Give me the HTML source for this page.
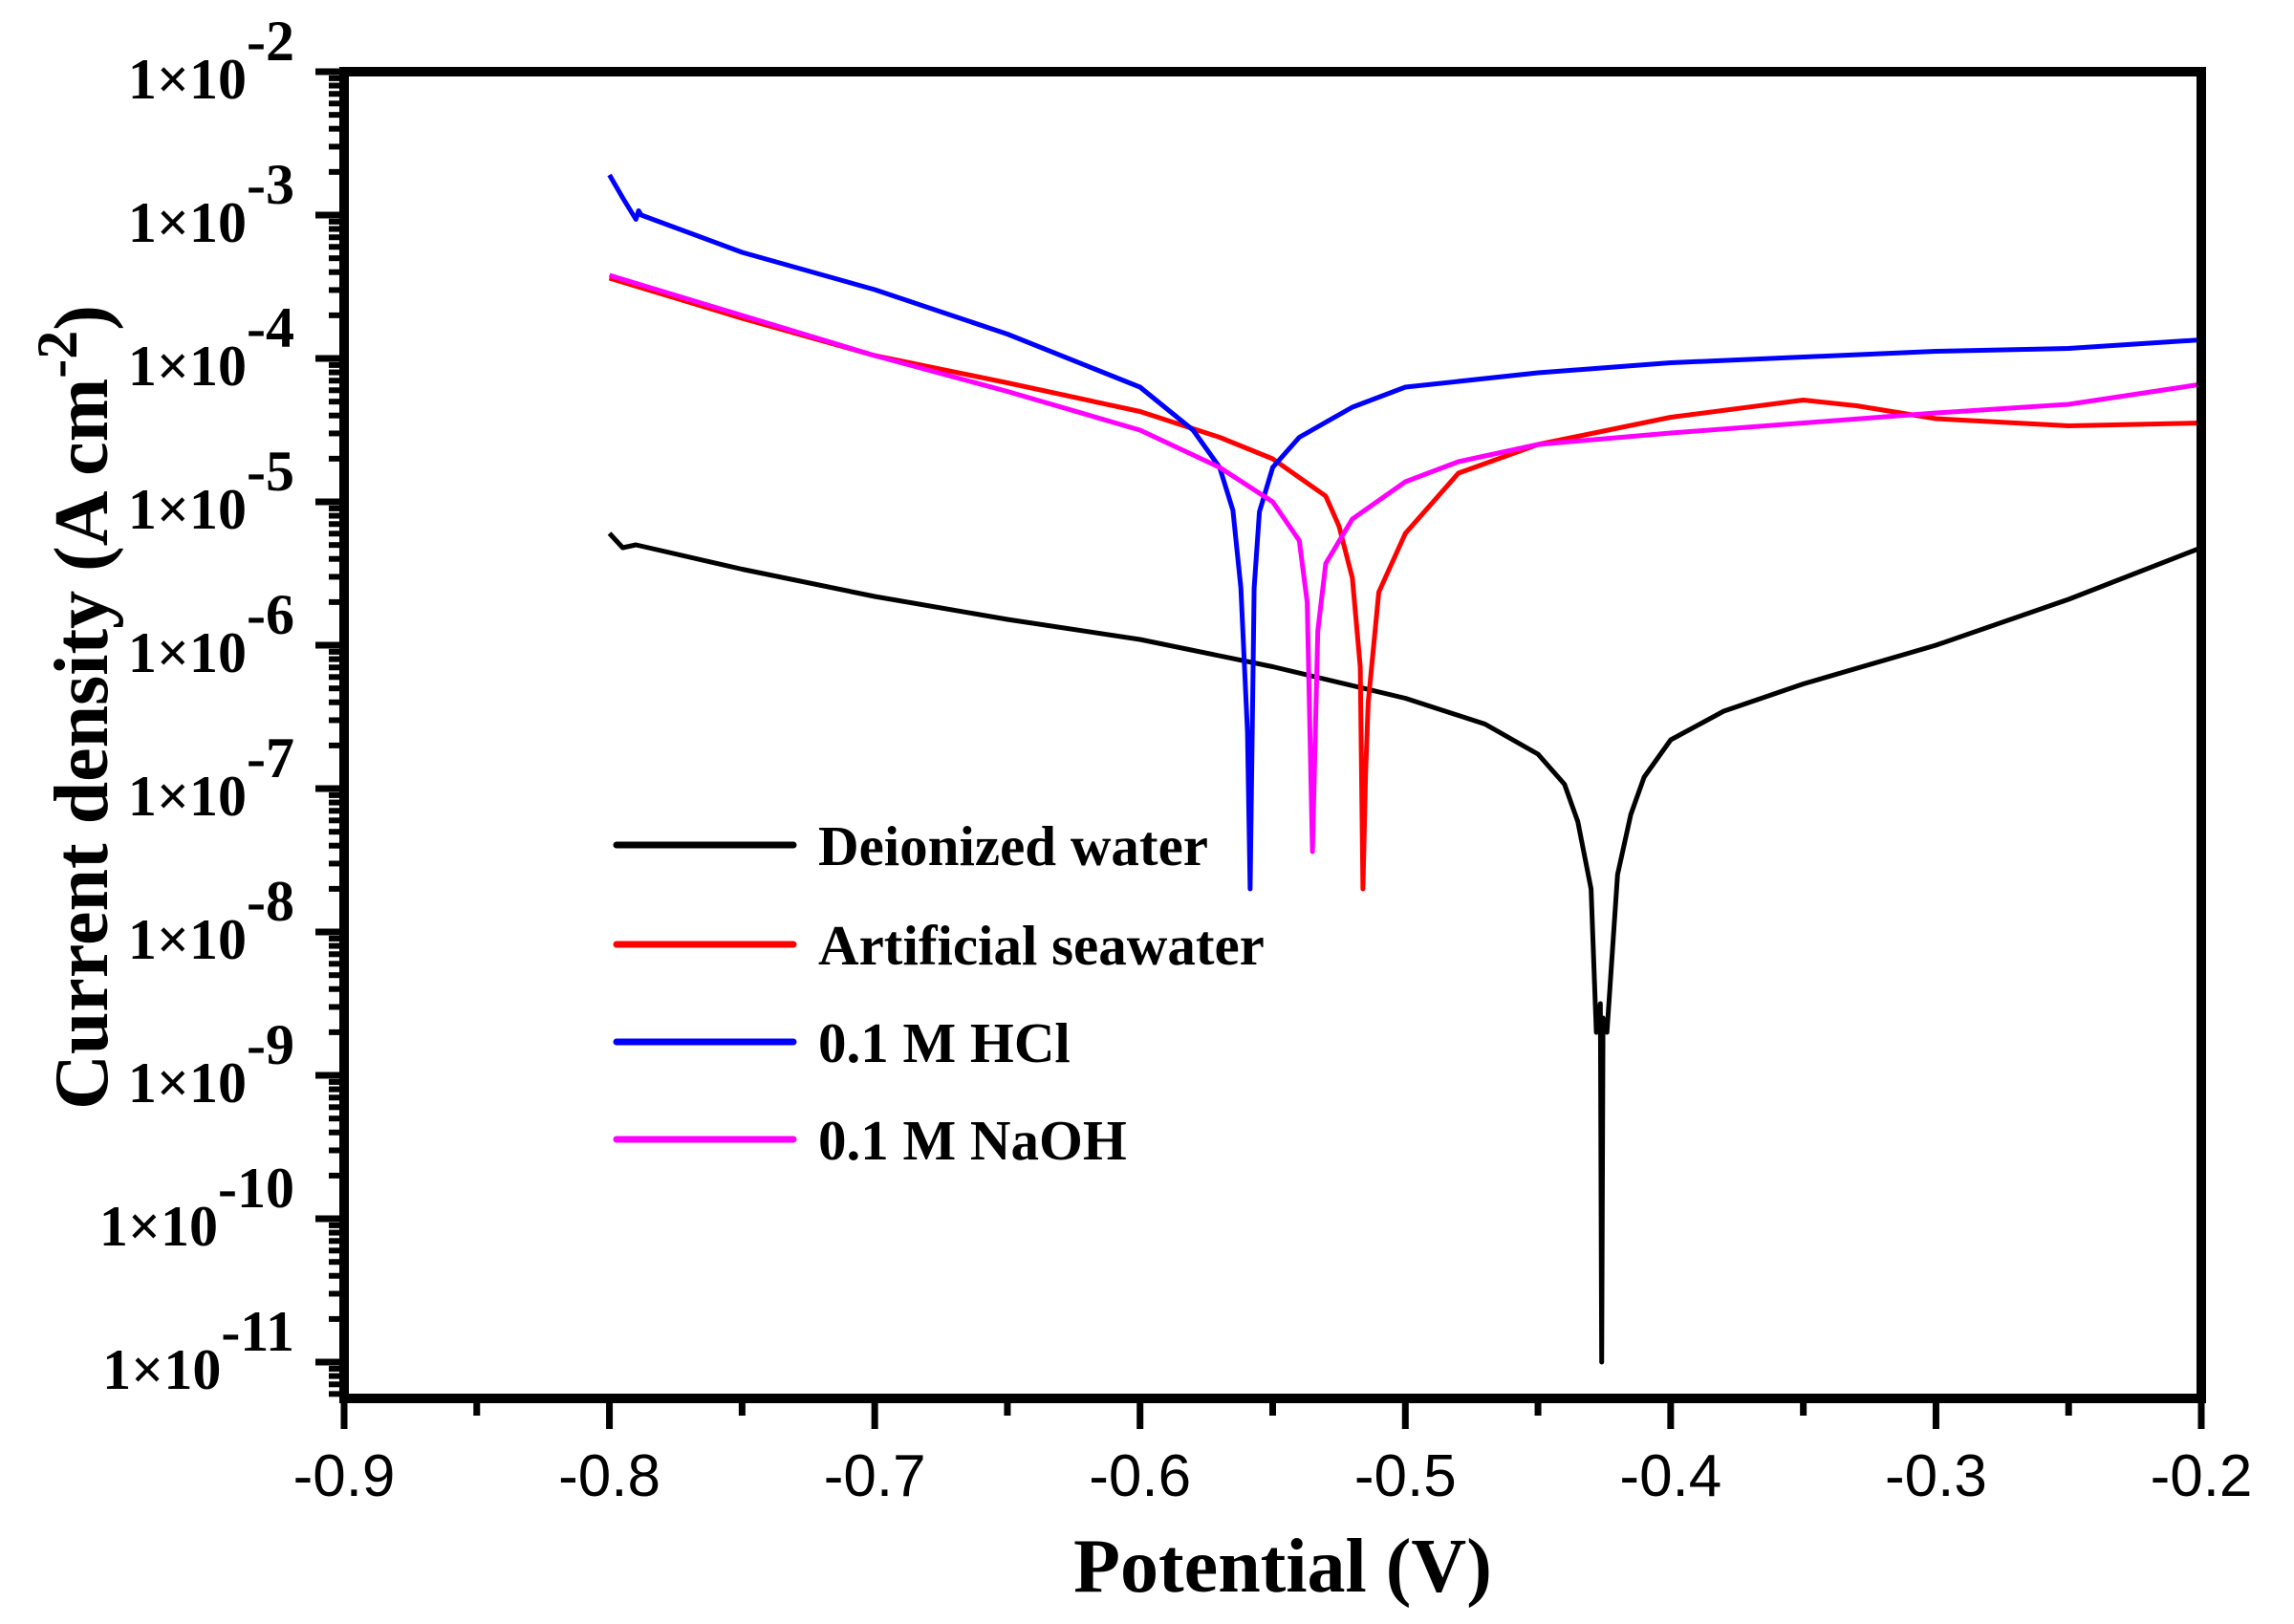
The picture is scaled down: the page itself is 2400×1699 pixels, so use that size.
<!DOCTYPE html>
<html><head><meta charset="utf-8"><style>
html,body{margin:0;padding:0;background:#fff;}
svg{display:block;}
.tl{font-family:"Liberation Serif",serif;font-weight:bold;font-size:60px;}
.xl{font-family:"Liberation Sans",sans-serif;font-size:62px;}
.ttl{font-family:"Liberation Serif",serif;font-weight:bold;font-size:80px;}
.lg{font-family:"Liberation Serif",serif;font-weight:bold;font-size:59px;}
</style></head><body>
<svg id="chart" width="2400" height="1699" viewBox="0 0 2400 1699" xmlns="http://www.w3.org/2000/svg">
<g id="plot"></g>
<g id="axes"></g>
<g id="legend"></g>
<text class="ttl" x="1342" y="1665" text-anchor="middle">Potential (V)</text>
<text class="ttl" transform="translate(112,740) rotate(-90)" text-anchor="middle">Current density (A cm<tspan dy="-32" font-size="60">-2</tspan><tspan dy="32">)</tspan></text>
</svg>
<script>
const xTicks=[-0.9,-0.8,-0.7,-0.6,-0.5,-0.4,-0.3,-0.2];
const xTickLabels=["-0.9","-0.8","-0.7","-0.6","-0.5","-0.4","-0.3","-0.2"];
const yDecades=[-2,-3,-4,-5,-6,-7,-8,-9,-10,-11];
const seriesNames=["Deionized water","Artificial seawater","0.1 M HCl","0.1 M NaOH"];
const seriesColors=["#000000","#ff0000","#0000ff","#ff00ff"];
const dwE=[-0.8,-0.795,-0.79,-0.75,-0.7,-0.65,-0.6,-0.55,-0.5,-0.47,-0.45,-0.44,-0.435,-0.43,-0.428,-0.4265,-0.426,-0.4255,-0.424,-0.42,-0.415,-0.41,-0.4,-0.38,-0.35,-0.3,-0.25,-0.2];
const dwI=[-5.22,-5.32,-5.30,-5.47,-5.66,-5.82,-5.96,-6.15,-6.37,-6.55,-6.76,-6.97,-7.23,-7.7,-8.7,-8.5,-11.0,-8.6,-8.7,-7.6,-7.18,-6.92,-6.66,-6.46,-6.27,-6.0,-5.68,-5.32];
const swE=[-0.8,-0.75,-0.7,-0.65,-0.6,-0.57,-0.55,-0.53,-0.525,-0.52,-0.517,-0.516,-0.515,-0.514,-0.51,-0.5,-0.48,-0.45,-0.4,-0.35,-0.33,-0.3,-0.25,-0.2];
const swI=[-3.44,-3.72,-3.98,-4.17,-4.37,-4.55,-4.70,-4.96,-5.17,-5.53,-6.15,-7.7,-6.9,-6.4,-5.63,-5.22,-4.8,-4.6,-4.41,-4.29,-4.33,-4.42,-4.47,-4.45];
const hclE=[-0.8,-0.795,-0.79,-0.789,-0.788,-0.75,-0.7,-0.65,-0.6,-0.58,-0.57,-0.565,-0.562,-0.5595,-0.5585,-0.557,-0.555,-0.55,-0.54,-0.52,-0.5,-0.45,-0.4,-0.35,-0.3,-0.25,-0.2];
const hclI=[-2.72,-2.88,-3.03,-2.97,-3.0,-3.26,-3.52,-3.83,-4.2,-4.5,-4.76,-5.06,-5.6,-6.6,-7.7,-5.6,-5.07,-4.76,-4.55,-4.34,-4.2,-4.1,-4.03,-3.99,-3.95,-3.93,-3.87];
const naE=[-0.8,-0.75,-0.7,-0.65,-0.6,-0.57,-0.55,-0.54,-0.537,-0.535,-0.533,-0.53,-0.52,-0.5,-0.48,-0.45,-0.4,-0.35,-0.3,-0.25,-0.2];
const naI=[-3.42,-3.70,-3.98,-4.23,-4.5,-4.76,-5.0,-5.27,-5.7,-7.44,-5.9,-5.43,-5.12,-4.86,-4.72,-4.6,-4.52,-4.45,-4.38,-4.32,-4.18];
const seriesE=[dwE,swE,hclE,naE];
const seriesI=[dwI,swI,hclI,naI];

const L=360,R=2303,T=75,B=1463;
const xMin=-0.9,xMax=-0.2,yTop=-2,yBot=-11.253;
const xs=v=>L+(v-xMin)/(xMax-xMin)*(R-L);
const ys=v=>T+(yTop-v)/(yTop-yBot)*(B-T);
const NS="http://www.w3.org/2000/svg";
function mk(tag,parent,attrs){const e=document.createElementNS(NS,tag);for(const k in attrs)e.setAttribute(k,attrs[k]);parent.appendChild(e);return e;}
const plot=document.getElementById('plot'),axes=document.getElementById('axes'),legend=document.getElementById('legend');
const names=["deionized-water-curve","seawater-curve","hcl-curve","naoh-curve"];
for(let s=0;s<4;s++){
  let d="";
  seriesE[s].forEach((e,i)=>{d+=(i?"L":"M")+xs(e).toFixed(1)+","+ys(seriesI[s][i]).toFixed(1);});
  const p=mk('path',plot,{d:d,fill:"none",stroke:seriesColors[s],"stroke-width":5,"stroke-linejoin":"round"});
  
  
}
const fr=mk('rect',axes,{x:L,y:T,width:R-L,height:B-T,fill:"none",stroke:"#000","stroke-width":10});


xTicks.forEach((v,i)=>{
  const x=xs(v);
  const t=mk('line',axes,{x1:x,y1:B,x2:x,y2:B+32,stroke:"#000","stroke-width":7});
  
  
  const lb=mk('text',axes,{x:x,y:1565,"text-anchor":"middle",class:"xl"});
  lb.textContent=xTickLabels[i];
  
  
  if(i<xTicks.length-1){
    const xm=xs(v+0.05);
    const m=mk('line',axes,{x1:xm,y1:B,x2:xm,y2:B+18,stroke:"#000","stroke-width":7});
    
    
  }
});
yDecades.forEach(dec=>{
  const y=ys(dec);
  const t=mk('line',axes,{x1:L-30,y1:y,x2:L,y2:y,stroke:"#000","stroke-width":7});
  
  
  const lb=mk('text',axes,{x:L-52,y:y+28,"text-anchor":"end",class:"tl"});
  lb.innerHTML='1×10<tspan dy="-40">'+dec+'</tspan>';
  
  
  for(let k=2;k<=9;k++){
    const yy=ys(dec-1+Math.log10(k));
    if(yy>B) continue;
    const m=mk('line',axes,{x1:L-16,y1:yy,x2:L,y2:yy,stroke:"#000","stroke-width":6});
    
    
  }
});
const legY=[884,988,1090,1192];
for(let s=0;s<4;s++){
  const ln=mk('line',legend,{x1:645,y1:legY[s],x2:830,y2:legY[s],stroke:seriesColors[s],"stroke-width":7,"stroke-linecap":"round"});
  
  
  const tx=mk('text',legend,{x:856,y:legY[s]+21,class:"lg"});
  tx.textContent=seriesNames[s];
  
  
}
</script>
</body></html>
